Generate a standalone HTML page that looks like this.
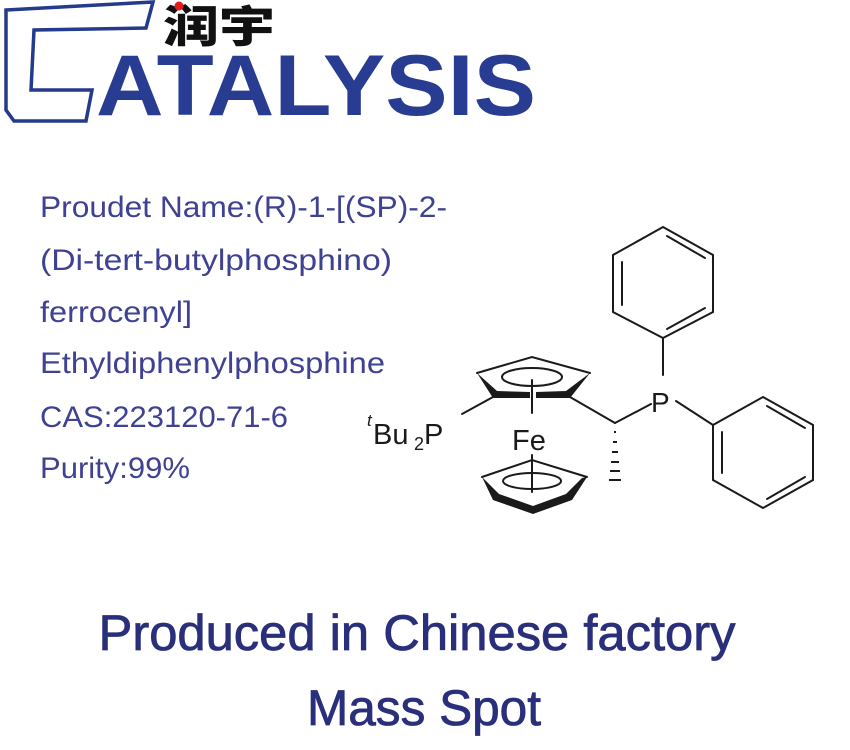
<!DOCTYPE html>
<html><head><meta charset="utf-8"><style>
html,body{margin:0;padding:0;background:#fff;}
svg{display:block;}
</style></head><body>
<svg width="850" height="750" viewBox="0 0 850 750" xmlns="http://www.w3.org/2000/svg">
<rect width="850" height="750" fill="#fff"/>
<path d="M6,10 L153,2 L146,28 L34,30 L31,90 L92,90 L86,121 L14,121 L6,110 Z" fill="none" stroke="#243a8c" stroke-width="3.5" stroke-linejoin="miter"/>
<text x="163" y="42" font-family="'Noto Sans CJK SC', 'WenQuanYi Zen Hei', sans-serif" font-weight="900" font-size="44" fill="#111" textLength="112" lengthAdjust="spacingAndGlyphs">润宇</text>
<circle cx="179" cy="6" r="4.5" fill="#e51b1b"/>
<text x="96" y="115" font-family="'Liberation Sans', sans-serif" font-weight="bold" font-size="86" fill="#283d92" textLength="440" lengthAdjust="spacingAndGlyphs">ATALYSIS</text>

<g font-family="'Liberation Sans', sans-serif" font-size="30" fill="#3f4192">
<text x="40" y="217" textLength="407" lengthAdjust="spacingAndGlyphs">Proudet Name:(R)-1-[(SP)-2-</text>
<text x="40" y="270" textLength="352" lengthAdjust="spacingAndGlyphs">(Di-tert-butylphosphino)</text>
<text x="40" y="322" textLength="152" lengthAdjust="spacingAndGlyphs">ferrocenyl]</text>
<text x="40" y="373" textLength="345" lengthAdjust="spacingAndGlyphs">Ethyldiphenylphosphine</text>
<text x="40" y="427" textLength="248" lengthAdjust="spacingAndGlyphs">CAS:223120-71-6</text>
<text x="40" y="478" textLength="150" lengthAdjust="spacingAndGlyphs">Purity:99%</text>
</g>

<g stroke="#1a1a1a" stroke-width="2" fill="none" stroke-linecap="round">
<polygon points="663,227 713,255 713,312 663,338 613,312 613,255"/>
<line x1="622" y1="262" x2="622" y2="305"/>
<line x1="667" y1="236" x2="705" y2="258"/>
<line x1="667" y1="329" x2="705" y2="308"/>
<line x1="663" y1="338" x2="663" y2="375"/>
<polygon points="763,397 813,425 813,480 763,508 713,480 713,425"/>
<line x1="722" y1="432" x2="722" y2="473"/>
<line x1="767" y1="406" x2="805" y2="428"/>
<line x1="767" y1="499" x2="805" y2="477"/>
<line x1="676" y1="401" x2="713" y2="425"/>
<line x1="615" y1="423" x2="651" y2="404"/>
<line x1="570" y1="397" x2="615" y2="423"/>
<polyline points="477,373 532,357 590,373"/>
<ellipse cx="532" cy="377" rx="30" ry="9"/>
<line x1="532" y1="380" x2="532" y2="413"/>
<line x1="462" y1="414" x2="493" y2="397"/>
<polyline points="482,477 532,460 587,477"/>
<ellipse cx="532" cy="481" rx="29" ry="8"/>
<line x1="532" y1="455" x2="532" y2="492"/>
</g>
<polygon points="477,373 493,398 530,398 530,392 497,391" fill="#1a1a1a"/>
<polygon points="590,373 570,398 536,398 536,392 566,391" fill="#1a1a1a"/>
<polygon points="482,477 493,500 533,514 572,500 587,477 582,478 566,494 533,506 499,494" fill="#1a1a1a"/>
<g stroke="#1a1a1a" stroke-width="2">
<line x1="614" y1="432" x2="616" y2="432"/>
<line x1="613" y1="442" x2="617" y2="442"/>
<line x1="612" y1="452" x2="618" y2="452"/>
<line x1="611" y1="462" x2="619" y2="462"/>
<line x1="610" y1="471" x2="620" y2="471"/>
<line x1="609" y1="480" x2="621" y2="480"/>
</g>
<g font-family="'Liberation Sans', sans-serif" fill="#1a1a1a">
<text x="651" y="412" font-size="28">P</text>
<text x="512" y="450" font-size="29">Fe</text>
<text x="367" y="426" font-size="17" font-style="italic">t</text>
<text x="373" y="444" font-size="29">Bu</text>
<text x="414" y="450" font-size="18">2</text>
<text x="424" y="444" font-size="29">P</text>
</g>

<g font-family="'Liberation Sans', sans-serif" font-size="50" fill="#2a2f7b" text-anchor="middle" stroke="#2a2f7b" stroke-width="0.8">
<text x="417" y="650" textLength="637" lengthAdjust="spacingAndGlyphs">Produced in Chinese factory</text>
<text x="424" y="725" textLength="234" lengthAdjust="spacingAndGlyphs">Mass Spot</text>
</g>
</svg>
</body></html>
